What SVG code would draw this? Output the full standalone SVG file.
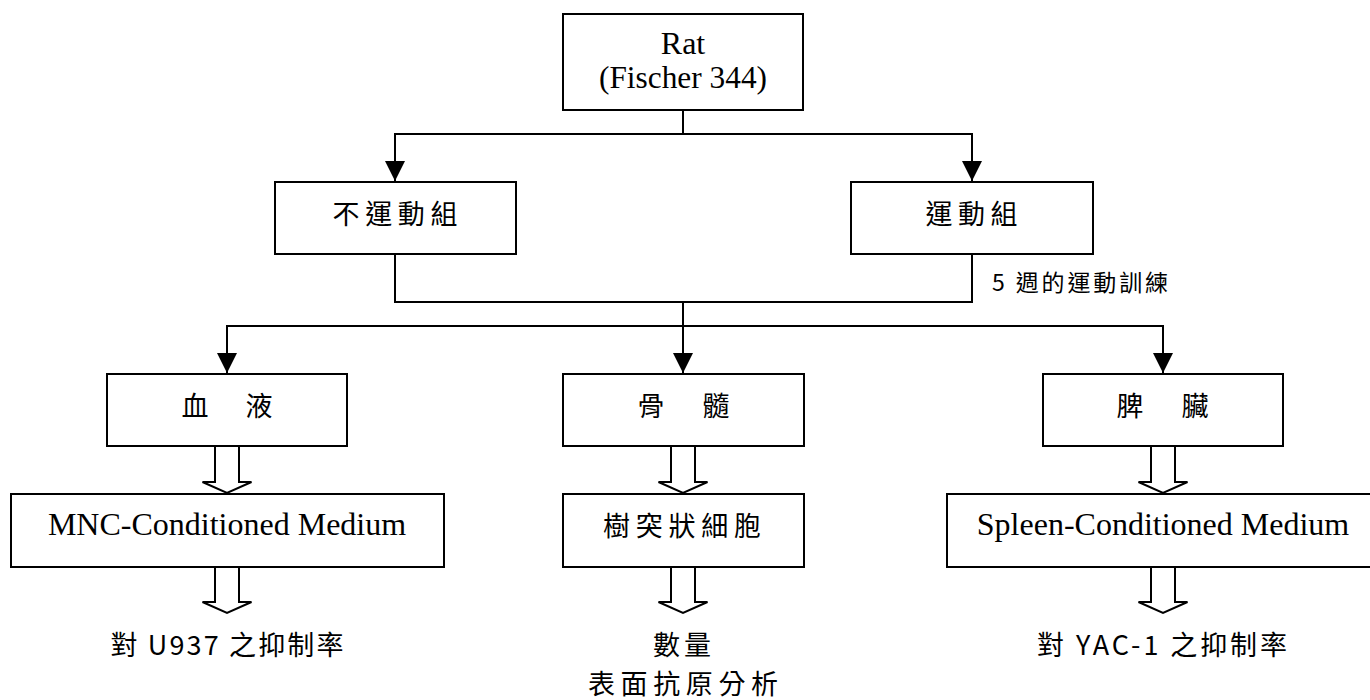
<svg xmlns="http://www.w3.org/2000/svg" width="1370" height="700" viewBox="0 0 1370 700">
<style>
.box{fill:#fff;stroke:#000;stroke-width:2}
.ln{fill:none;stroke:#000;stroke-width:2}
.hollow{fill:#fff;stroke:#000;stroke-width:2;stroke-linejoin:miter}
.en{font-family:"Liberation Serif","Times New Roman",serif;font-size:32px;fill:#000;text-anchor:middle}
.zh{font-family:"Noto Sans CJK TC","Noto Sans CJK SC",sans-serif;font-size:27px;fill:#000;text-anchor:middle}
.zhs{font-family:"Noto Sans CJK TC","Noto Sans CJK SC",sans-serif;font-size:23px;fill:#000}
</style>
<defs>
<marker id="arr" viewBox="0 0 20 20" refX="20" refY="10" markerWidth="20" markerHeight="20" markerUnits="userSpaceOnUse" orient="auto">
<path d="M0,0 L20,10 L0,20 Z" fill="#000"/>
</marker>
</defs>
<rect width="1370" height="700" fill="#fff"/>

<g id="connectors">
<path class="ln" d="M683,110 V134 H395 V181" marker-end="url(#arr)"/>
<path class="ln" d="M683,134 H972 V181" marker-end="url(#arr)"/>
<path class="ln" d="M395,254 V302 H972 V254"/>
<path class="ln" d="M683,302 V373" marker-end="url(#arr)"/>
<path class="ln" d="M683,326 H227 V373" marker-end="url(#arr)"/>
<path class="ln" d="M683,326 H1163 V373" marker-end="url(#arr)"/>
<path class="hollow" d="M215,446 V482 H202.5 L227,493 L251.5,482 H239 V446"/>
<path class="hollow" d="M671,446 V482 H658.5 L683,493 L707.5,482 H695 V446"/>
<path class="hollow" d="M1151,446 V482 H1138.5 L1163,493 L1187.5,482 H1175 V446"/>
<path class="hollow" d="M215,567 V602 H202.5 L227,613 L251.5,602 H239 V567"/>
<path class="hollow" d="M671,567 V602 H658.5 L683,613 L707.5,602 H695 V567"/>
<path class="hollow" d="M1151,567 V602 H1138.5 L1163,613 L1187.5,602 H1175 V567"/>
<text class="zhs" x="992" y="291" textLength="176" lengthAdjust="spacing">5 週的運動訓練</text>
</g>

<g id="rat">
<rect class="box" x="563" y="14" width="240" height="96"/>
<text class="en" x="683" y="54">Rat</text>
<text class="en" x="683" y="88" textLength="168" lengthAdjust="spacingAndGlyphs">(Fischer 344)</text>
</g>

<g id="sedentary">
<rect class="box" x="275" y="182" width="241" height="72"/>
<text class="zh" x="395" y="224" textLength="125" lengthAdjust="spacing">不運動組</text>
</g>

<g id="exercise">
<rect class="box" x="851" y="182" width="242" height="72"/>
<text class="zh" x="971.5" y="224" textLength="92" lengthAdjust="spacing">運動組</text>
</g>

<g id="blood">
<rect class="box" x="107" y="374" width="240" height="72"/>
<text class="zh" y="416"><tspan x="195">血</tspan><tspan x="259">液</tspan></text>
</g>

<g id="marrow">
<rect class="box" x="563" y="374" width="241" height="72"/>
<text class="zh" y="416"><tspan x="651">骨</tspan><tspan x="716">髓</tspan></text>
</g>

<g id="spleen">
<rect class="box" x="1043" y="374" width="240" height="72"/>
<text class="zh" y="416"><tspan x="1130">脾</tspan><tspan x="1195">臟</tspan></text>
</g>

<g id="mnc">
<rect class="box" x="11" y="494" width="433" height="73"/>
<text class="en" x="227" y="535">MNC-Conditioned Medium</text>
</g>

<g id="dc">
<rect class="box" x="563" y="494" width="241" height="73"/>
<text class="zh" x="682" y="536" textLength="158" lengthAdjust="spacing">樹突狀細胞</text>
</g>

<g id="scm">
<rect class="box" x="947" y="494" width="433" height="73"/>
<text class="en" x="1163" y="535">Spleen-Conditioned Medium</text>
</g>

<g id="out-u937">
<text class="zh" x="227" y="655" textLength="233" lengthAdjust="spacing">對 U937 之抑制率</text>
</g>

<g id="out-dc">
<text class="zh" x="682" y="655" textLength="58" lengthAdjust="spacing">數量</text>
<text class="zh" x="683" y="694" textLength="190" lengthAdjust="spacing">表面抗原分析</text>
</g>

<g id="out-yac">
<text class="zh" x="1162" y="655" textLength="250" lengthAdjust="spacing">對 YAC-1 之抑制率</text>
</g>
</svg>
